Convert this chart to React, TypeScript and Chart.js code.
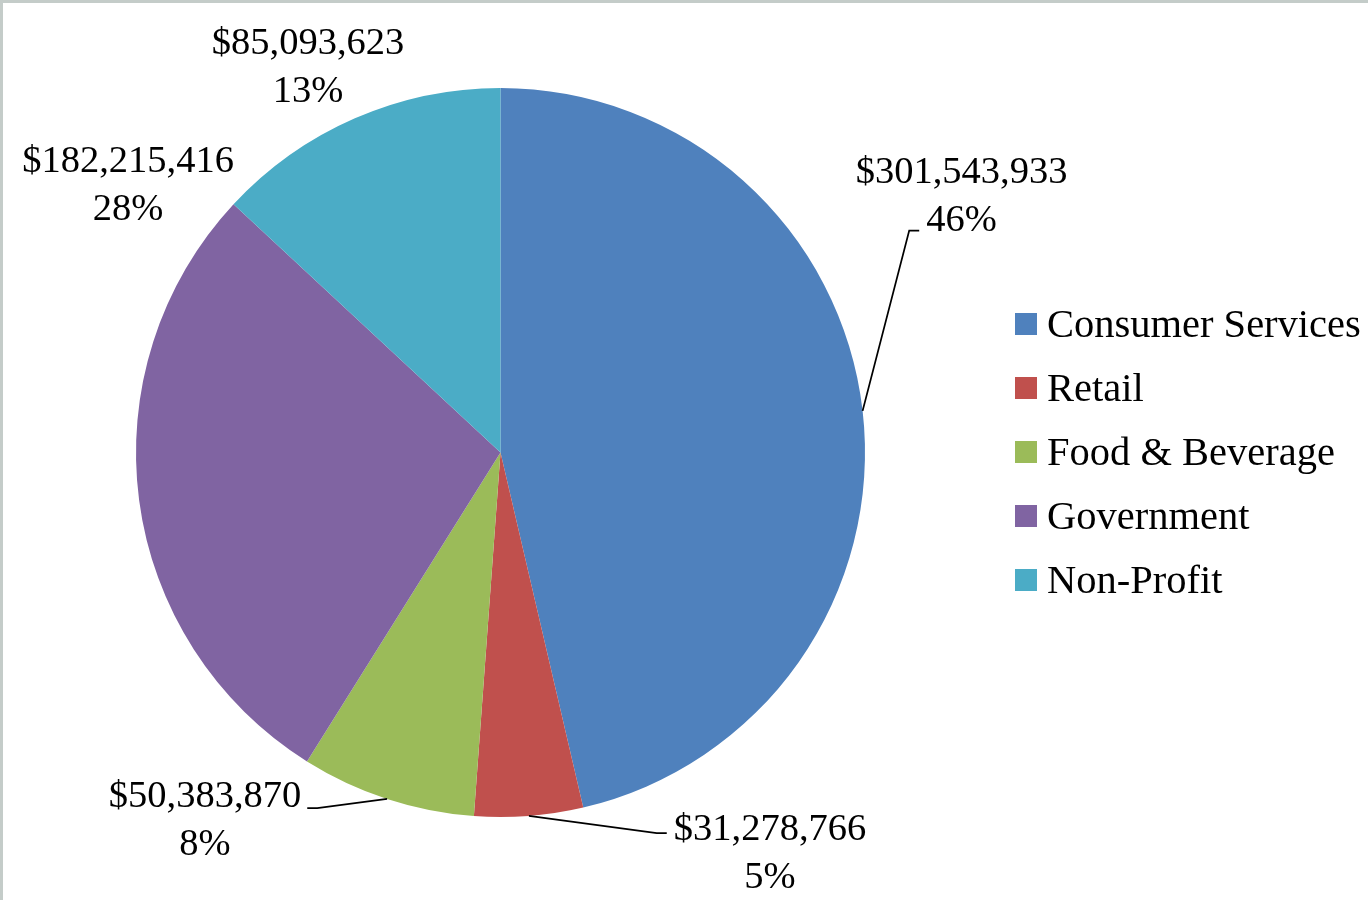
import React, { useEffect, useRef } from "react";
import { Chart, registerables } from "chart.js";

Chart.register(...registerables);

const categories = ["Consumer Services", "Retail", "Food & Beverage", "Government", "Non-Profit"];
const revenues = [301543933, 31278766, 50383870, 182215416, 85093623];
const sliceColors = ["#4F81BD", "#C0504D", "#9BBB59", "#8064A2", "#4BACC6"];

// label placement: offset of the first text line (center x, baseline y) from the pie center
const labelOffsets = [
  [461, -269.5],
  [269.5, 387.5],
  [-295.5, 354.5],
  [-372.5, -280.5],
  [-192.5, -398.5],
];
const labelHasLeader = [true, true, true, false, false];
const leaderNudge = [0, -7, 1, 0, 0];

const FONT = '"Liberation Serif", "Times New Roman", serif';

const labelPlugin = {
  id: "outsideLabels",
  afterDatasetsDraw(chart: any) {
    const ctx = chart.ctx as CanvasRenderingContext2D;
    const meta = chart.getDatasetMeta(0);
    const data = chart.data.datasets[0].data as number[];
    const total = data.reduce((a, b) => a + b, 0);
    const lineGap = 47.5;
    ctx.save();
    ctx.font = `38.5px ${FONT}`;
    ctx.fillStyle = "#000";
    ctx.strokeStyle = "#000";
    ctx.lineWidth = 1.75;
    ctx.textAlign = "center";
    ctx.textBaseline = "alphabetic";
    meta.data.forEach((arc: any, i: number) => {
      const { x, y, startAngle, endAngle, outerRadius } = arc.getProps(
        ["x", "y", "startAngle", "endAngle", "outerRadius"],
        true
      );
      const lines = [
        "$" + data[i].toLocaleString("en-US"),
        Math.round((data[i] / total) * 100) + "%",
      ];
      const cx = x + labelOffsets[i][0];
      const b1 = y + labelOffsets[i][1];
      lines.forEach((t, k) => ctx.fillText(t, cx, b1 + k * lineGap));
      if (labelHasLeader[i]) {
        const mid = (startAngle + endAngle) / 2;
        const ex = x + Math.cos(mid) * outerRadius;
        const ey = y + Math.sin(mid) * outerRadius;
        const k = Math.abs(b1 - 12 - ey) <= Math.abs(b1 + lineGap - 12 - ey) ? 0 : 1;
        const ly = b1 + k * lineGap + leaderNudge[i];
        const w = ctx.measureText(lines[k]).width;
        const right = cx > ex;
        const ax = right ? cx - w / 2 - 7 : cx + w / 2 + 6;
        const bx = right ? ax - 10 : ax + 10;
        ctx.beginPath();
        ctx.moveTo(ex, ey);
        ctx.lineTo(bx, ly);
        ctx.lineTo(ax, ly);
        ctx.stroke();
      }
    });
    ctx.restore();
  },
  afterDraw(chart: any) {
    const ctx = chart.ctx as CanvasRenderingContext2D;
    const meta = chart.getDatasetMeta(0);
    const first = meta.data[0];
    if (!first) return;
    const px = first.x;
    const py = first.y;
    const labels = chart.data.labels as string[];
    const colors = chart.data.datasets[0].backgroundColor as string[];
    const boxLeft = px + 514.5;
    const box = 22;
    const pitch = 64;
    ctx.save();
    ctx.font = `40.5px ${FONT}`;
    ctx.textAlign = "left";
    ctx.textBaseline = "alphabetic";
    labels.forEach((lab, i) => {
      const rowC = py + (i - (labels.length - 1) / 2) * pitch - 0.5;
      ctx.fillStyle = colors[i];
      ctx.fillRect(boxLeft, rowC - box / 2, box, box);
      ctx.fillStyle = "#000";
      ctx.fillText(lab, boxLeft + box + 10, rowC + 13);
    });
    ctx.restore();
  },
};

export default function App() {
  const canvasRef = useRef<HTMLCanvasElement | null>(null);

  useEffect(() => {
    document.body.style.margin = "0";
    const canvas = canvasRef.current;
    if (!canvas) return;
    const chart = new Chart(canvas, {
      type: "pie",
      data: {
        labels: categories,
        datasets: [
          {
            data: revenues,
            backgroundColor: sliceColors,
            borderWidth: 0,
          },
        ],
      },
      options: {
        responsive: false,
        animation: false,
        layout: { padding: { top: 85, bottom: 83, left: 133, right: 503 } },
        plugins: {
          legend: { display: false },
          tooltip: { enabled: false },
        },
      },
      plugins: [labelPlugin],
    });
    return () => chart.destroy();
  }, []);

  return (
    <div
      style={{
        position: "absolute",
        left: 0,
        top: 0,
        width: 1368,
        height: 900,
        boxSizing: "border-box",
        borderTop: "3px solid #c4ccc9",
        borderLeft: "3px solid #c4ccc9",
        background: "#fff",
        overflow: "hidden",
      }}
    >
      <canvas ref={canvasRef} width={1365} height={897} style={{ display: "block" }} />
    </div>
  );
}
